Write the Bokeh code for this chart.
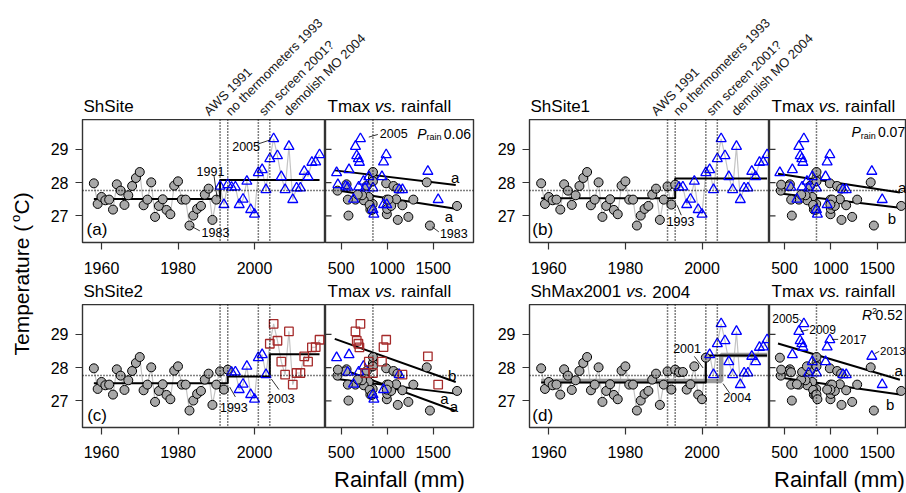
import numpy as np
from bokeh.plotting import figure
from bokeh.models import Label, FixedTicker, Range1d, Span
from bokeh.layouts import row, column
from bokeh.embed import file_html
from bokeh.resources import INLINE

FONT = "Liberation Sans"

# ---------------- data ----------------
years = list(range(1958, 2018))
tmax = [27.98, 27.36, 27.57, 27.47, 27.49, 27.19, 27.95, 27.76, 27.33, 27.62,
        27.90, 28.14, 28.32, 27.32, 27.49, 28.01, 26.97, 27.30, 27.50, 27.18,
        27.05, 27.91, 28.04, 27.49, 27.49, 26.71, 27.01, 27.21, 27.30, 27.64,
        27.82, 26.88, 27.49,
        27.89, 27.34, 27.94, 27.86, 27.87, 27.34, 27.50, 28.04, 27.19, 27.05,
        28.30, 28.39, 27.79, 28.72, 29.32, 28.81, 28.18, 27.79, 29.09, 27.49,
        27.84, 27.84, 28.34, 28.18, 28.61, 28.62, 28.84]
rain = [989, 842, 799, 745, 996, 817, 558, 460, 809, 727,
        1068, 845, 845, 1165, 655, 1430, 1230, 1759, 1097, 835,
        996, 780, 845, 1284, 572, 1464, 579, 1000, 1043, 680,
        1111, 1115, 1014,
        547, 995, 464, 570, 690, 960, 634, 742, 845, 855,
        450, 585, 1130, 687, 709, 669, 943, 1166, 655, 1554,
        845, 760, 1442, 800, 698, 960, 989]

events = [1991, 1993, 2001, 2004]
event_texts = ["AWS 1991", "no thermometers 1993", "sm screen 2001?", "demolish MO 2004"]
event_text_x = [1988.7, 1994.4, 2003.1, 2009.6]

year_ticks = [1960, 1980, 2000]
rain_ticks = [500, 1000, 1500]
temp_ticks = [27, 28, 29]

# last year of each group (except the final group) and where the mean steps
groups_a, steps_a = [1990], [1991]
groups_b, steps_b = [1993], [1993]
groups_c, steps_c = [1993, 2003], [1993, 2004]
groups_d, steps_d = [2001], [2001]
groups_d_alt, steps_d_alt = [2004], [2005]

# fitted Tmax ~ rainfall lines (intercept, slope) per group
fit_x = [430, 1745]
fit_a_int, fit_a_slope = [27.966, 28.514], [-0.000432, -0.000336]
fit_b_int, fit_b_slope = [27.821, 28.453], [-0.000331, -0.000429]
fit_c_int, fit_c_slope = [27.816, 28.476, 29.292], [-0.000342, -0.001019, -0.000987]
fit_d_int, fit_d_slope = [27.878, 29.083], [-0.000394, -0.000828]

YR = np.array(years)
TM = np.array(tmax)
RN = np.array(rain)
TMEAN = TM.mean()
RMED = float(np.median(RN))

# ---------------- styles ----------------
MK = {
    "circ": dict(marker="circle", size=9, fill_color="#a8a8a8", line_color="black", line_width=1),
    "tri": dict(marker="triangle", size=10, fill_color=None, line_color="#0000ff", line_width=1.3),
    "sqr": dict(marker="square", size=8.5, fill_color=None, line_color="#a52a2a", line_width=1.3),
}
Y_RANGE = (26.2, 29.9)
FH = 123          # frame height
ANN = 12.5        # annotation font size


def group_masks(ends):
    edges = [YR.min() - 1] + list(ends) + [YR.max()]
    return [(YR > edges[i]) & (YR <= edges[i + 1]) for i in range(len(edges) - 1)]


def step_path(ends, steps):
    means = [TM[m].mean() for m in group_masks(ends)]
    xs, ys = [YR.min()], [means[0]]
    for sx, m0, m1 in zip(steps, means[:-1], means[1:]):
        xs += [sx, sx]
        ys += [m0, m1]
    xs.append(YR.max())
    ys.append(means[-1])
    return xs, ys


def lab(p, x, y, text, size=ANN, align="center", baseline="middle", style="normal", angle=0, color="black"):
    p.add_layout(Label(x=x, y=y, text=text, text_font=FONT, text_font_size=f"{size}px",
                       text_align=align, text_baseline=baseline, text_font_style=style,
                       angle=angle, angle_units="deg", text_color=color))


def leader(p, xs, ys):
    p.line(xs, ys, line_color="black", line_width=0.8)


def style_axis(ax, ticks, standoff):
    ax.ticker = FixedTicker(ticks=ticks)
    ax.major_label_text_font = FONT
    ax.major_label_text_font_size = "16px"
    ax.major_label_text_color = "black"
    ax.major_tick_out = 7
    ax.major_tick_in = 0
    ax.minor_tick_out = 0
    ax.minor_tick_in = 0
    ax.major_tick_line_color = "#333333"
    ax.major_tick_line_width = 1.2
    ax.axis_line_color = None
    ax.major_label_standoff = standoff


def common(p):
    p.outline_line_color = "#333333"
    p.outline_line_width = 1.4
    p.background_fill_color = "white"
    p.border_fill_color = "white"
    for g in p.grid:
        g.visible = False


def dotted_refs(p, vertical_locs):
    for loc in vertical_locs:
        p.add_layout(Span(location=loc, dimension="height", line_color="black",
                          line_width=1.5, line_dash="1 2"))
    p.add_layout(Span(location=TMEAN, dimension="width", line_color="black",
                      line_width=1.5, line_dash="1 2"))


def ts_fig(xr, bl, fw, bb, ends, kinds, steps, alt=None):
    p = figure(width=bl + fw, height=FH + bb, x_range=Range1d(*xr), y_range=Range1d(*Y_RANGE),
               output_backend="svg", toolbar_location=None,
               min_border_left=bl, min_border_right=0, min_border_top=0, min_border_bottom=bb)
    common(p)
    style_axis(p.xaxis[0], year_ticks, 12 if bb >= 38 else 11)
    style_axis(p.yaxis[0], temp_ticks, 7)
    dotted_refs(p, events)
    p.line(years, tmax, line_color="#c4c4c4", line_width=1.2)
    if alt is not None:
        xs, ys = step_path(*alt)
        p.line(xs, ys, line_color="#9c9c9c", line_width=4.5)
    xs, ys = step_path(ends, steps)
    p.line(xs, ys, line_color="black", line_width=2)
    for m, k in zip(group_masks(ends), kinds):
        p.scatter(YR[m], TM[m], **MK[k])
    return p


def sc_fig(xr, fw, br, bb, ends, kinds, ints, slopes):
    p = figure(width=fw + br, height=FH + bb, x_range=Range1d(*xr), y_range=Range1d(*Y_RANGE),
               output_backend="svg", toolbar_location=None, y_axis_location=None,
               min_border_left=0, min_border_right=br, min_border_top=0, min_border_bottom=bb)
    common(p)
    style_axis(p.xaxis[0], rain_ticks, 12 if bb >= 38 else 11)
    # short inward tick marks on the shared left edge
    ppu = fw / (xr[1] - xr[0])
    p.segment(x0=[xr[0]] * len(temp_ticks), y0=temp_ticks,
              x1=[xr[0] + 6 / ppu] * len(temp_ticks), y1=temp_ticks,
              line_color="#333333", line_width=1.2)
    dotted_refs(p, [RMED])
    for b0, b1 in zip(ints, slopes):
        p.line(fit_x, [b0 + b1 * x for x in fit_x], line_color="black", line_width=2)
    for m, k in zip(group_masks(ends), kinds):
        p.scatter(RN[m], TM[m], **MK[k])
    return p


def blank(width, height, xr, yr, bl=0):
    p = figure(width=width, height=height, x_range=Range1d(*xr), y_range=Range1d(*yr),
               output_backend="svg", toolbar_location=None, x_axis_location=None, y_axis_location=None,
               min_border_left=bl, min_border_right=0, min_border_top=0, min_border_bottom=0)
    p.outline_line_color = None
    p.background_fill_color = "white"
    p.border_fill_color = "white"
    for g in p.grid:
        g.visible = False
    return p


def header(bl, fw, height, x0, ppy):
    return blank(bl + fw, height, (x0, x0 + fw / ppy), (0, height), bl=bl)


def title_runs(p, x0, ppy, off_px, parts, y=13):
    for text, style, dx in parts:
        lab(p, x0 + (off_px + dx) / ppy, y, text, size=17, align="left", baseline="middle", style=style)


TMAX_RAIN = [("Tmax", "normal", 0), ("vs.", "italic", 47.2), ("rainfall", "normal", 73.6)]

# ---------------- geometry (pixels) ----------------
YLAB_W = 36
BL_L, FW_L, SCW_L, BR_L = 46, 243, 148, 3
BL_R, FW_R, SCW_R = 53, 240, 137
PPY_L, X0_L = 3.825, 1955.03
PPY_R, X0_R = 3.83, 1954.96
TS_L = (X0_L, X0_L + FW_L / PPY_L)
TS_R = (X0_R, X0_R + FW_R / PPY_R)
SC_L = (329.3, 329.3 + SCW_L / 0.092)
SC_R = (338.2, 338.2 + SCW_R / 0.0927)
H1, BB1, H2, BB2 = 119, 38, 24, 37
TOTAL_H = 493
FOOT = TOTAL_H - (H1 + FH + BB1 + H2 + FH + BB2)

# ---------------- headers ----------------
ha = header(BL_L, FW_L + SCW_L + BR_L, H1, X0_L, PPY_L)
hb = header(BL_R, FW_R + SCW_R, H1, X0_R, PPY_R)
for h, ppy, x0, fw, name in [(ha, PPY_L, X0_L, FW_L, "ShSite"), (hb, PPY_R, X0_R, FW_R, "ShSite1")]:
    title_runs(h, x0, ppy, 1, [(name, "normal", 0)])
    title_runs(h, x0, ppy, fw + 2, TMAX_RAIN)
    for tx, t in zip(event_text_x, event_texts):
        lab(h, tx, 1, t, size=13, align="left", baseline="bottom", angle=45, color="#1a1a1a")

hc = header(BL_L, FW_L + SCW_L + BR_L, H2, X0_L, PPY_L)
hd = header(BL_R, FW_R + SCW_R, H2, X0_R, PPY_R)
title_runs(hc, X0_L, PPY_L, 1, [("ShSite2", "normal", 0)])
title_runs(hc, X0_L, PPY_L, FW_L + 2, TMAX_RAIN)
title_runs(hd, X0_R, PPY_R, 1, [("ShMax2001", "normal", 0), ("vs.", "italic", 95.4), ("2004", "normal", 121.8)])
title_runs(hd, X0_R, PPY_R, FW_R + 2, TMAX_RAIN)

# ---------------- row 1 ----------------
ts_a = ts_fig(TS_L, BL_L, FW_L, BB1, groups_a, ["circ", "tri"], steps_a)
lab(ts_a, 1988.5, 28.35, "1991")
leader(ts_a, [1989.4, 1990.2], [28.22, 27.56])
lab(ts_a, 1997.8, 29.10, "2005")
leader(ts_a, [2001.1, 2004.2], [29.17, 29.29])
lab(ts_a, 1989.8, 26.49, "1983")
leader(ts_a, [1983.45, 1985.7], [26.69, 26.55])
lab(ts_a, 1956.1, 26.6, "(a)", size=17, align="left")

sc_a = sc_fig(SC_L, SCW_L, BR_L, BB1, groups_a, ["circ", "tri"], fit_a_int, fit_a_slope)
lab(sc_a, 920, 29.47, "2005", align="left")
leader(sc_a, [800, 898], [29.37, 29.45])
lab(sc_a, 1326, 29.47, "P", size=14, align="left", style="italic")
lab(sc_a, 1427, 29.36, "rain", size=9, align="left")
lab(sc_a, 1615, 29.47, "0.06", size=14, align="left")
lab(sc_a, 1740, 28.17, "a", size=15)
lab(sc_a, 1670, 26.97, "a", size=15)
lab(sc_a, 1724, 26.47, "1983")
leader(sc_a, [1489, 1561], [26.67, 26.52])

ts_b = ts_fig(TS_R, BL_R, FW_R, BB1, groups_b, ["circ", "tri"], steps_b)
lab(ts_b, 1994.4, 26.82, "1993")
leader(ts_b, [1993.5, 1994.6], [27.32, 27.02])
lab(ts_b, 1955.7, 26.6, "(b)", size=17, align="left")

sc_b = sc_fig(SC_R, SCW_R, 0, BB1, groups_b, ["circ", "tri"], fit_b_int, fit_b_slope)
lab(sc_b, 1222, 29.52, "P", size=14, align="left", style="italic")
lab(sc_b, 1323, 29.41, "rain", size=9, align="left")
lab(sc_b, 1508, 29.52, "0.07", size=14, align="left")
lab(sc_b, 1770, 27.86, "a", size=15)
lab(sc_b, 1660, 26.92, "b", size=15)

# ---------------- row 2 ----------------
ts_c = ts_fig(TS_L, BL_L, FW_L, BB2, groups_c, ["circ", "tri", "sqr"], steps_c)
lab(ts_c, 1994.6, 26.81, "1993")
leader(ts_c, [1993.5, 1995.0], [27.42, 27.12])
lab(ts_c, 2006.9, 27.07, "2003")
leader(ts_c, [2004.4, 2006.4], [27.66, 27.34])
lab(ts_c, 1956.25, 26.55, "(c)", size=17, align="left")

sc_c = sc_fig(SC_L, SCW_L, BR_L, BB2, groups_c, ["circ", "tri", "sqr"], fit_c_int, fit_c_slope)
lab(sc_c, 1706, 27.76, "b", size=15)
lab(sc_c, 1623, 27.06, "a", size=15)
lab(sc_c, 1725, 26.83, "a", size=15)

ts_d = ts_fig(TS_R, BL_R, FW_R, BB2, groups_d, ["circ", "tri"], steps_d, alt=(groups_d_alt, steps_d_alt))
lab(ts_d, 1996.1, 28.57, "2001")
leader(ts_d, [1998.0, 2000.3], [28.34, 27.99])
lab(ts_d, 2009.2, 27.09, "2004")
leader(ts_d, [2005.5, 2007.3], [27.52, 27.22])
lab(ts_d, 1955.7, 26.55, "(d)", size=17, align="left")

sc_d = sc_fig(SC_R, SCW_R, 0, BB2, groups_d, ["circ", "tri"], fit_d_int, fit_d_slope)
lab(sc_d, 1335, 29.59, "R", size=14, align="left", style="italic")
lab(sc_d, 1443, 29.71, "2", size=9, align="left")
lab(sc_d, 1482, 29.59, "0.52", size=14, align="left")
lab(sc_d, 656, 29.49, "2005", size=12, align="right")
leader(sc_d, [660, 698], [29.45, 29.37])
lab(sc_d, 767, 29.14, "2009", size=12, align="left")
leader(sc_d, [676, 756], [29.09, 29.14])
lab(sc_d, 1097, 28.85, "2017", size=12, align="left")
leader(sc_d, [1013, 1079], [28.85, 28.85])
lab(sc_d, 1530, 28.51, "2013", size=11.5, align="left")
leader(sc_d, [1472, 1522], [28.42, 28.49])
lab(sc_d, 1731, 27.9, "a", size=15)
lab(sc_d, 1639, 26.9, "b", size=15)

# ---------------- axis titles ----------------
ylab = blank(YLAB_W, TOTAL_H, (0, YLAB_W), (0, TOTAL_H))
lab(ylab, 21, 138, "Temperature (", size=21, align="left", angle=90)
lab(ylab, 15, 271.5, "o", size=13, align="left", angle=90)
lab(ylab, 21, 279, "C)", size=21, align="left", angle=90)

foot_w = BL_L + FW_L + SCW_L + BR_L + BL_R + FW_R + SCW_R
foot = blank(foot_w, FOOT, (YLAB_W, YLAB_W + foot_w), (0, FOOT))
lab(foot, 399, FOOT / 2, "Rainfall (mm)", size=22)
lab(foot, 839, FOOT / 2, "Rainfall (mm)", size=22)

layout = row(ylab, column(row(ha, hb), row(ts_a, sc_a, ts_b, sc_b),
                          row(hc, hd), row(ts_c, sc_c, ts_d, sc_d), foot))

open("out.html", "w").write(file_html(layout, INLINE))
